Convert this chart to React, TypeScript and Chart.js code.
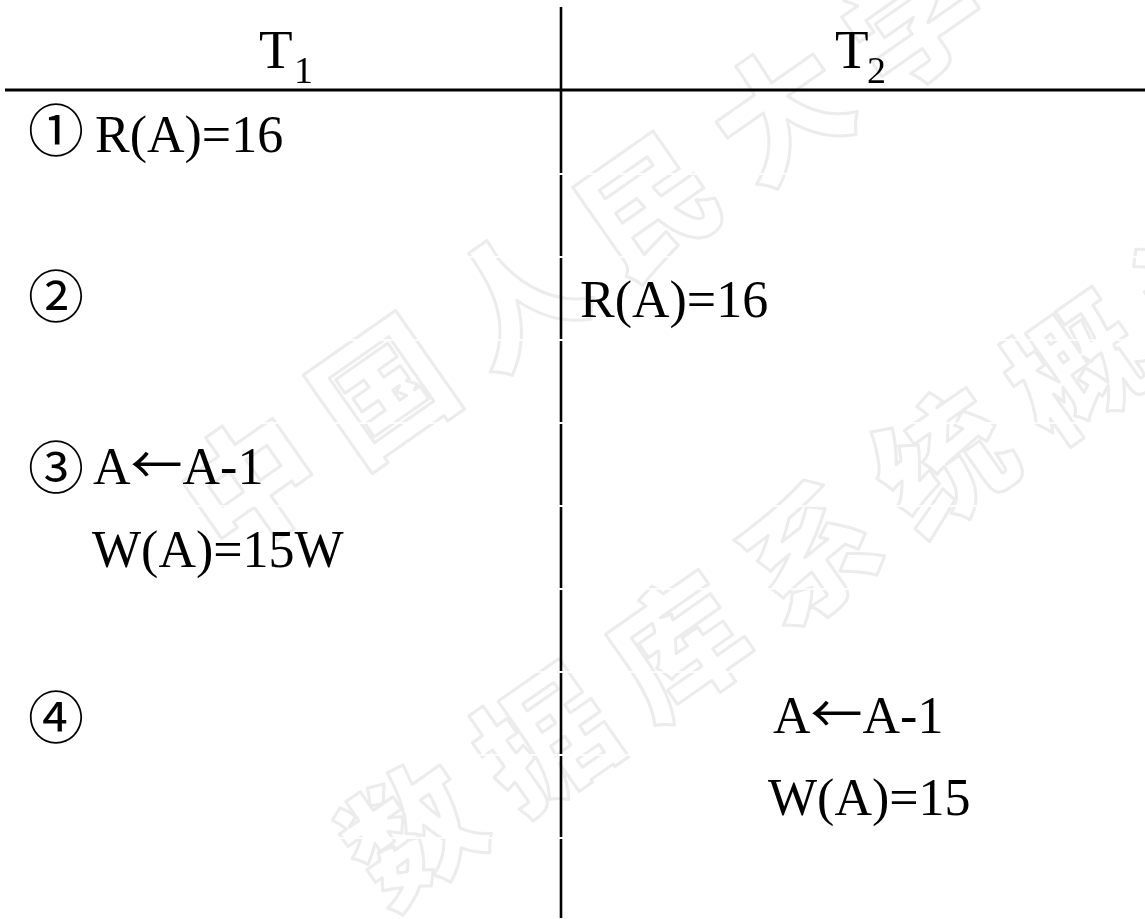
import React, { useEffect, useRef } from "react";
import { Chart, registerables } from "chart.js";

Chart.register(...registerables);

// ---- data ----
const headerLetters = ["T", "T"];
const headerSubscripts = ["1", "2"];
const stepMarks = ["①", "②", "③", "④"];
const t1Ops = ["R(A)=16", "A←A-1", "W(A)=15W"];
const t2Ops = ["R(A)=16", "A←A-1", "W(A)=15"];
const watermarkLines = ["中国人民大学", "数据库系统概论"];
const rowBreaks = [174, 257, 340, 423, 506, 589, 672, 755, 838];

const W = 1145;
const H = 919;

// layout (value space == pixel space, scales are 0..W and 0..H)
const DIVIDER_X = 561;
const RULE_Y = 90;
const SERIF = "'Liberation Serif', 'Times New Roman', serif";
const CJK = "'Noto Sans CJK SC'";
const MARK_FONT = "'Liberation Serif', 'DejaVu Serif', 'Noto Sans CJK SC', serif";

const headerPos = [
  { x: 259, y: 68, sx: 294, sy: 83 },
  { x: 835, y: 68, sx: 867, sy: 83 },
];
const markPos = [
  { x: 28, y: 151 },
  { x: 28, y: 317 },
  { x: 28, y: 488 },
  { x: 28, y: 738 },
];
const t1Pos = [
  { x: 95, y: 152 },
  { x: 93, y: 484 },
  { x: 92, y: 567 },
];
const t2Pos = [
  { x: 580, y: 317 },
  { x: 773, y: 733 },
  { x: 768, y: 815 },
];
const watermarkStart = [
  { x: 250, y: 483 },
  { x: 412, y: 832 },
];

function verticalSegments() {
  const pts: { x: number; y: number | null }[] = [];
  const stops = [7, ...rowBreaks, 918];
  for (let i = 0; i < stops.length - 1; i++) {
    const a = stops[i] + (i === 0 ? 0 : 0.9);
    const b = stops[i + 1] - (i === stops.length - 2 ? 0 : 0.9);
    pts.push({ x: DIVIDER_X, y: a });
    pts.push({ x: DIVIDER_X, y: b });
    pts.push({ x: DIVIDER_X, y: null });
  }
  return pts;
}

function drawRich(ctx: CanvasRenderingContext2D, text: string, x: number, y: number, size: number) {
  const parts = text.split(/(←)/);
  let cx = x;
  parts.forEach((part) => {
    if (!part) return;
    ctx.font = part === "←" ? `${size}px ${CJK}` : `${size}px ${SERIF}`;
    ctx.fillText(part, cx, y);
    cx += ctx.measureText(part).width;
  });
}

const watermarkPlugin = {
  id: "watermark",
  beforeDatasetsDraw(chart: any) {
    const { ctx, scales } = chart;
    const sx = scales.x, sy = scales.y;
    const ang = (-35 * Math.PI) / 180;
    const step = 162;
    ctx.save();
    ctx.font = "900 132px 'Noto Sans CJK SC'";
    ctx.strokeStyle = "#ececec";
    ctx.lineWidth = 3;
    ctx.lineJoin = "round";
    ctx.textAlign = "center";
    ctx.textBaseline = "middle";
    watermarkLines.forEach((line, li) => {
      const st = watermarkStart[li];
      Array.from(line).forEach((ch, i) => {
        const vx = st.x + i * step * Math.cos(ang);
        const vy = st.y + i * step * Math.sin(ang);
        ctx.save();
        ctx.translate(sx.getPixelForValue(vx), sy.getPixelForValue(vy));
        ctx.rotate(ang);
        ctx.strokeText(ch, 0, 0);
        ctx.restore();
      });
    });
    // thin white strips at the row breaks
    ctx.fillStyle = "#ffffff";
    rowBreaks.forEach((b) => {
      ctx.fillRect(0, sy.getPixelForValue(b) - 0.8, chart.width, 1.6);
    });
    ctx.restore();
  },
};

const textPlugin = {
  id: "tableText",
  afterDatasetsDraw(chart: any) {
    const { ctx, scales } = chart;
    const sx = scales.x, sy = scales.y;
    ctx.save();
    ctx.fillStyle = "#000000";
    ctx.textAlign = "left";
    ctx.textBaseline = "alphabetic";
    headerLetters.forEach((t, i) => {
      const p = headerPos[i];
      ctx.font = `55px ${SERIF}`;
      ctx.fillText(t, sx.getPixelForValue(p.x), sy.getPixelForValue(p.y));
      ctx.font = `38px ${SERIF}`;
      ctx.fillText(headerSubscripts[i], sx.getPixelForValue(p.sx), sy.getPixelForValue(p.sy));
    });
    ctx.font = `56px ${MARK_FONT}`;
    stepMarks.forEach((m, i) => {
      const p = markPos[i];
      ctx.fillText(m, sx.getPixelForValue(p.x), sy.getPixelForValue(p.y));
    });
    t1Ops.forEach((t, i) => {
      const p = t1Pos[i];
      drawRich(ctx, t, sx.getPixelForValue(p.x), sy.getPixelForValue(p.y), 52);
    });
    t2Ops.forEach((t, i) => {
      const p = t2Pos[i];
      drawRich(ctx, t, sx.getPixelForValue(p.x), sy.getPixelForValue(p.y), 52);
    });
    ctx.restore();
  },
};

export default function App() {
  const ref = useRef<HTMLCanvasElement>(null);
  useEffect(() => {
    document.body.style.margin = "0";
    const canvas = ref.current;
    if (!canvas) return;
    const chart = new Chart(canvas, {
      type: "scatter",
      data: {
        datasets: [
          {
            data: [
              { x: 5, y: RULE_Y },
              { x: W, y: RULE_Y },
            ],
            showLine: true,
            borderColor: "#000000",
            borderWidth: 3,
            pointRadius: 0,
          },
          {
            data: verticalSegments() as any,
            showLine: true,
            spanGaps: false,
            borderColor: "#000000",
            borderWidth: 2.6,
            pointRadius: 0,
          },
        ],
      },
      options: {
        responsive: false,
        animation: false,
        events: [],
        layout: { padding: 0 },
        plugins: { legend: { display: false }, tooltip: { enabled: false } },
        scales: {
          x: { type: "linear", min: 0, max: W, display: false },
          y: { type: "linear", min: 0, max: H, reverse: true, display: false },
        },
      },
      plugins: [watermarkPlugin, textPlugin],
    });
    return () => chart.destroy();
  }, []);
  return (
    <div style={{ width: W, height: H, background: "#ffffff" }}>
      <canvas ref={ref} width={W} height={H} style={{ display: "block" }} />
    </div>
  );
}
